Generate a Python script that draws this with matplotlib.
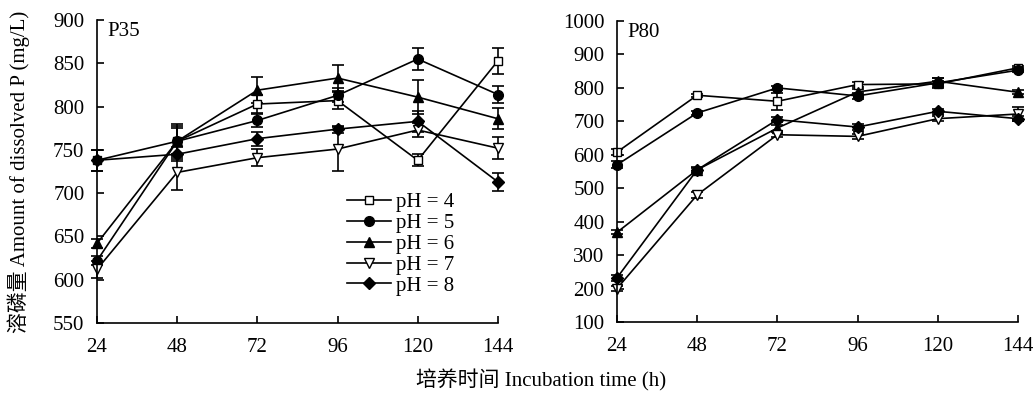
import matplotlib
matplotlib.use("Agg")
import matplotlib.pyplot as plt
from matplotlib.lines import Line2D

plt.rcParams['font.family'] = ['Liberation Serif', 'Noto Sans CJK SC']
plt.rcParams['mathtext.fontset'] = 'stix'

hours = [24, 48, 72, 96, 120, 144]
labels = ["pH = 4", "pH = 5", "pH = 6", "pH = 7", "pH = 8"]

# P35 panel
p35_ph4 = [738, 760, 803, 807, 738, 853]
p35_ph5 = [622, 760, 784, 813, 855, 814]
p35_ph6 = [642, 760, 819, 833, 811, 786]
p35_ph7 = [612, 724, 741, 751, 773, 752]
p35_ph8 = [738, 745, 763, 774, 783, 713]
p35_err4 = [12, 20, 10, 10, 7, 15]
p35_err5 = [5, 15, 8, 8, 13, 10]
p35_err6 = [5, 18, 15, 15, 20, 12]
p35_err7 = [10, 20, 10, 25, 8, 13]
p35_err8 = [12, 8, 8, 4, 12, 10]

# P80 panel
p80_ph4 = [608, 778, 760, 810, 812, 860]
p80_ph5 = [570, 725, 800, 776, 815, 853]
p80_ph6 = [368, 555, 680, 788, 820, 787]
p80_ph7 = [200, 480, 660, 655, 708, 722]
p80_ph8 = [232, 555, 705, 683, 730, 708]
p80_err4 = [8, 5, 25, 8, 8, 6]
p80_err5 = [10, 6, 6, 8, 15, 6]
p80_err6 = [6, 6, 8, 8, 10, 6]
p80_err7 = [8, 8, 8, 8, 8, 20]
p80_err8 = [8, 8, 8, 10, 8, 8]

markers = ['s', 'o', '^', 'v', 'D']
faces = ['white', 'black', 'black', 'white', 'black']
msizes = [6, 7, 7, 7, 6]

fig = plt.figure(figsize=(10.35, 3.96), dpi=100)
ax1 = fig.add_axes([0.0937, 0.1843, 0.3874, 0.765])
ax2 = fig.add_axes([0.5961, 0.1869, 0.3874, 0.760])

def draw(ax, series, errs, ylim, yticks, title):
    for s, e, m, fc, ms in zip(series, errs, markers, faces, msizes):
        ax.errorbar(hours, s, yerr=e, color='black', marker=m, markerfacecolor=fc,
                    markeredgecolor='black', markersize=ms, linewidth=1.2,
                    elinewidth=1.2, capsize=4, capthick=1.2, clip_on=False)
    ax.set_xlim(24, 144)
    ax.set_ylim(*ylim)
    ax.set_xticks(hours)
    ax.set_yticks(yticks)
    for sp in ['top', 'right']:
        ax.spines[sp].set_visible(False)
    for sp in ['left', 'bottom']:
        ax.spines[sp].set_linewidth(1.2)
    ax.tick_params(direction='in', length=5, width=1.2, labelsize=15)
    ax.tick_params(axis='x', pad=11)
    ax.tick_params(axis='y', pad=9)
    ax.text(0.025, 0.995, title, transform=ax.transAxes, fontsize=15, va='top', ha='left')

draw(ax1, [p35_ph4, p35_ph5, p35_ph6, p35_ph7, p35_ph8],
     [p35_err4, p35_err5, p35_err6, p35_err7, p35_err8],
     (550, 900), range(550, 901, 50), "P35")
draw(ax2, [p80_ph4, p80_ph5, p80_ph6, p80_ph7, p80_ph8],
     [p80_err4, p80_err5, p80_err6, p80_err7, p80_err8],
     (100, 1000), range(100, 1001, 100), "P80")

handles = [Line2D([], [], color='black', marker=m, markerfacecolor=fc,
                  markeredgecolor='black', markersize=ms, linewidth=1.2)
           for m, fc, ms in zip(markers, faces, msizes)]
ax1.legend(handles, labels, loc='upper left', bbox_to_anchor=(0.5875, 0.478), frameon=False,
           fontsize=15, handlelength=2.1, handletextpad=0.25, labelspacing=0.06,
           borderpad=0.2)

fig.text(0.018, 0.565, "溶磷量 Amount of dissolved P (mg/L)", rotation=90,
         ha='center', va='center', fontsize=15)
fig.text(0.523, 0.04, "培养时间 Incubation time (h)", ha='center', va='center', fontsize=15)

fig.savefig("out.png", dpi=100)
